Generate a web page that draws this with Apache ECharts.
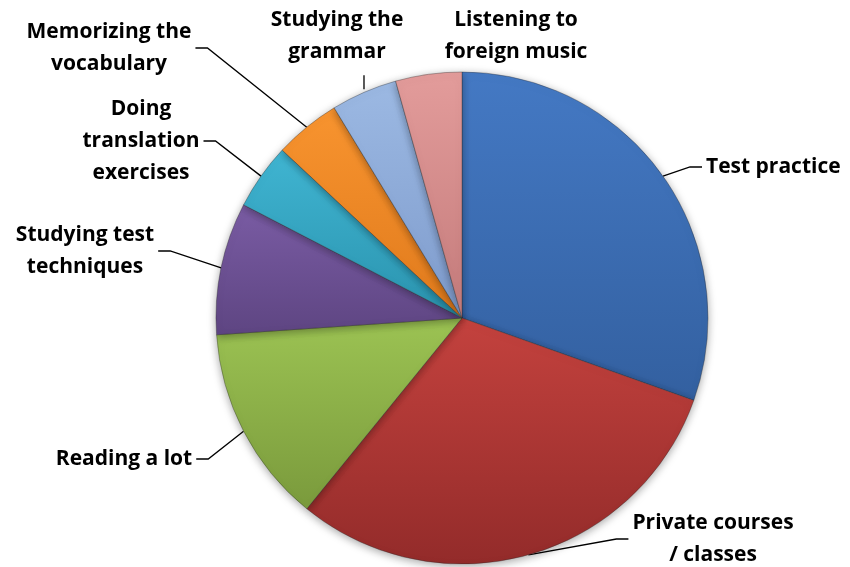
<!DOCTYPE html>
<html>
<head>
<meta charset="utf-8">
<script src="https://cdn.jsdelivr.net/npm/echarts@6/dist/echarts.min.js"></script>
<style>
  html, body { margin: 0; padding: 0; background: #ffffff; }
  #chart { width: 850px; height: 567px; }
</style>
</head>
<body>
<div id="chart"></div>
<script>
// Study methods and how many people named each one
const categories = [
  'Test practice',
  'Private courses\n/ classes',
  'Reading a lot',
  'Studying test\ntechniques',
  'Doing\ntranslation\nexercises',
  'Memorizing the\nvocabulary',
  'Studying the\ngrammar',
  'Listening to\nforeign music'
];
const values = [7, 7, 3, 2, 1, 1, 1, 1];

// Slice shading: lighter at the top, darker at the bottom
const topColors    = ['#4479c4', '#c4423e', '#9cc353', '#7a5ca4', '#40b5d2', '#f8942f', '#9cb9e3', '#e39c9b'];
const bottomColors = ['#3360a0', '#932b2a', '#7a9a3c', '#5e4582', '#2a93ae', '#e07a1c', '#7e9bcc', '#c47b7b'];

// Where each label block sits (centre point, alignment)
const labelSpots = [
  { x: 702, y: 167, align: 'left' },
  { x: 713, y: 539, align: 'center' },
  { x: 124, y: 459, align: 'center' },
  { x: 85,  y: 251, align: 'center' },
  { x: 141, y: 141, align: 'center' },
  { x: 109, y: 48,  align: 'center' },
  { x: 337, y: 36,  align: 'center' },
  { x: 516, y: 36,  align: 'center' }
];
// Labels whose leader runs straight up from the slice rim
const straightLeader = [6];

const chart = echarts.init(document.getElementById('chart'), null, { renderer: 'canvas' });

const pieData = categories.map((name, i) => ({
  name: name,
  value: values[i],
  itemStyle: {
    color: new echarts.graphic.LinearGradient(0, 0, 0, 1, [
      { offset: 0, color: topColors[i] },
      { offset: 1, color: bottomColors[i] }
    ])
  },
  labelLine: { show: i !== 7 }
}));

chart.setOption({
  animation: false,
  backgroundColor: '#ffffff',
  series: [{
    type: 'pie',
    center: [462, 318],
    radius: [0, 246],
    startAngle: 90,
    clockwise: true,
    avoidLabelOverlap: false,
    itemStyle: {
      borderColor: 'rgba(40,40,40,0.35)',
      borderWidth: 1,
      shadowBlur: 8,
      shadowColor: 'rgba(0,0,0,0.35)',
      shadowOffsetY: 2
    },
    label: {
      show: true,
      position: 'outside',
      formatter: '{b}',
      color: '#000000',
      fontFamily: 'Open Sans',
      fontWeight: 'bold',
      fontSize: 21,
      lineHeight: 32,
      align: 'center',
      padding: [0, 4]
    },
    labelLine: {
      show: true,
      length: 10,
      length2: 12,
      smooth: false,
      lineStyle: { color: '#000000', width: 1.3 }
    },
    labelLayout: function (params) {
      const i = params.dataIndex;
      const s = labelSpots[i];
      const out = { x: s.x, y: s.y, align: s.align, verticalAlign: 'middle' };
      if (straightLeader.indexOf(i) >= 0 && params.labelLinePoints) {
        const p = params.labelLinePoints[0];
        out.labelLinePoints = [[p[0], p[1] - 3], [p[0], p[1] - 10], [p[0], p[1] - 17]];
      }
      return out;
    },
    emphasis: { disabled: true },
    data: pieData
  }]
});
</script>
</body>
</html>
